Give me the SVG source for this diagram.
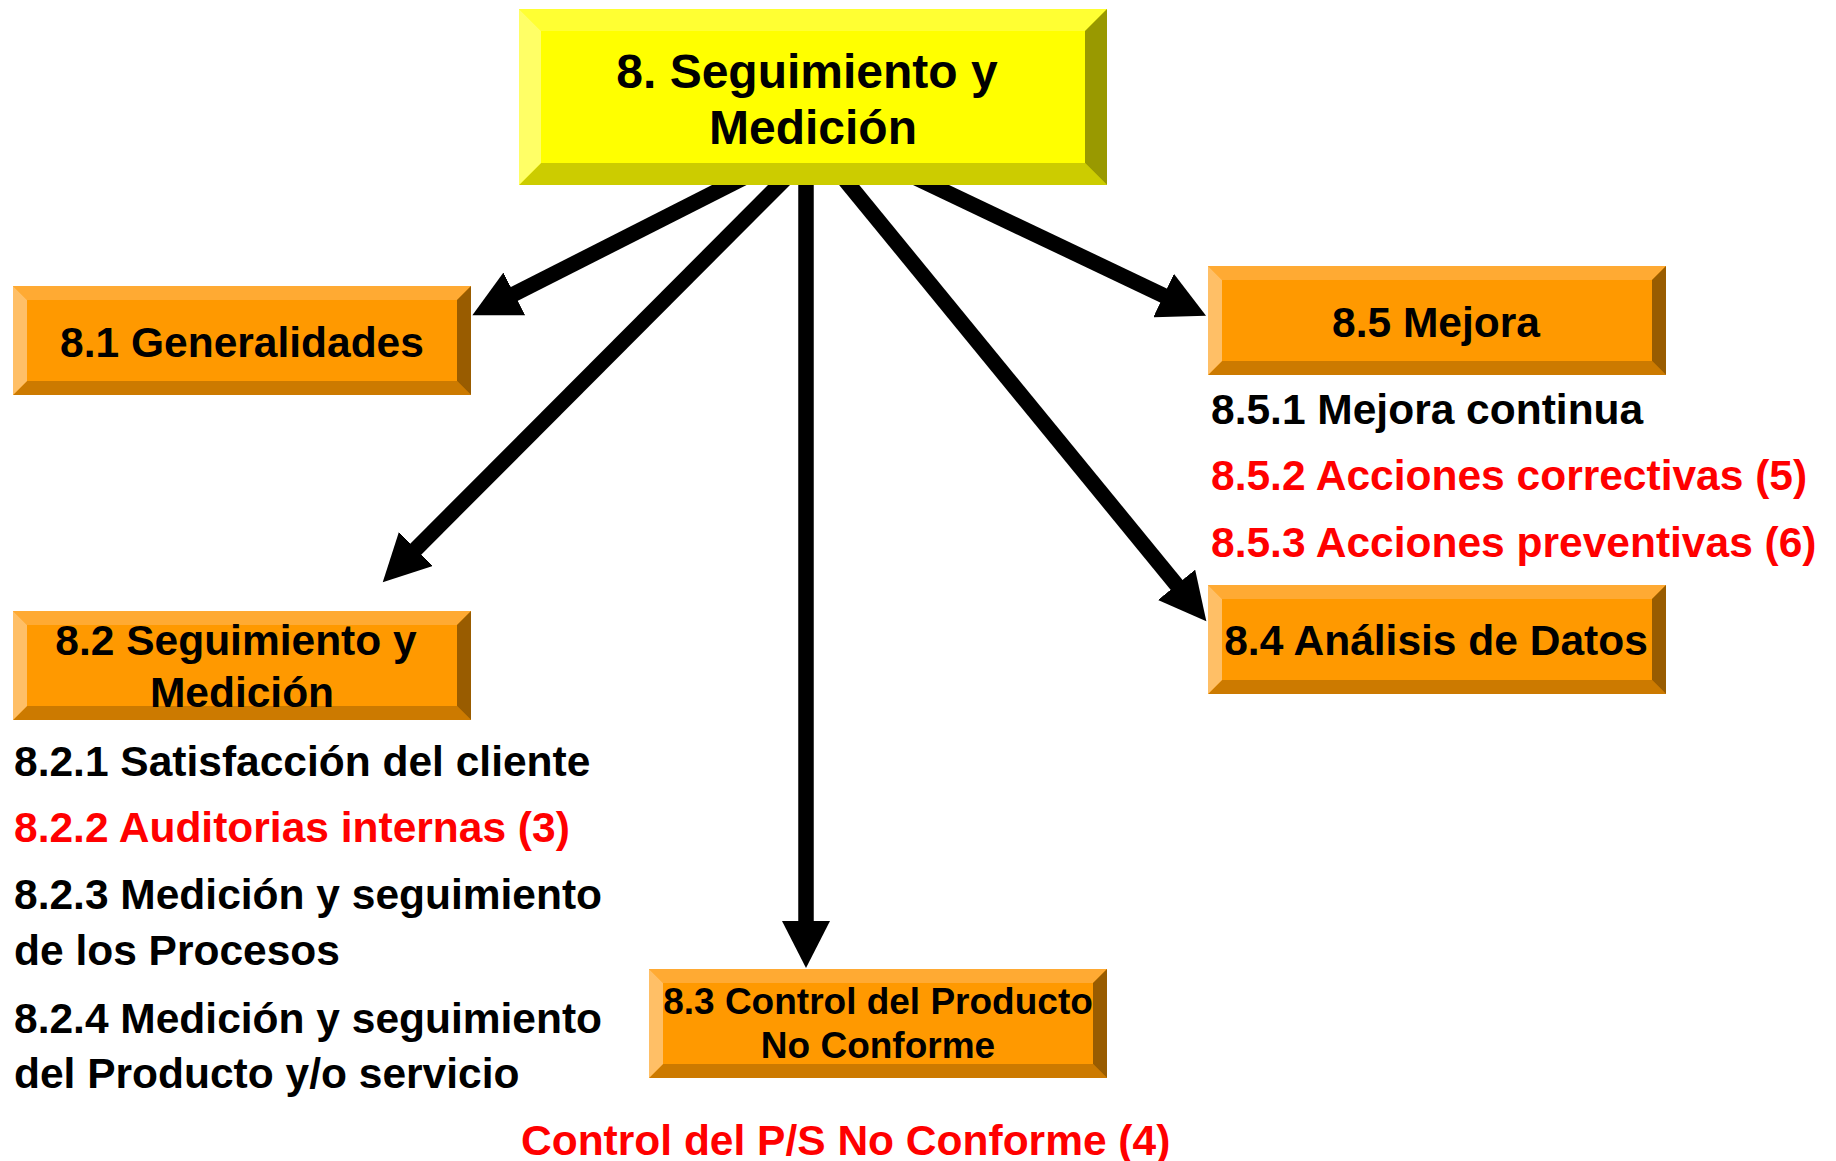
<svg xmlns="http://www.w3.org/2000/svg" xmlns:xlink="http://www.w3.org/1999/xlink" width="1836" height="1161" viewBox="0 0 1836 1161">
<style>
text{font-family:"Liberation Sans",Arial,Helvetica,sans-serif;font-weight:bold;fill:#000}
.box{font-size:42.5px;text-anchor:middle}
.top{font-size:48px;text-anchor:middle}
.small{font-size:37px;text-anchor:middle}
.item{font-size:42.5px}
.red{fill:#FF0000}
.conn{stroke:#000;stroke-width:15.5;fill:none;marker-end:url(#ah)}
</style>
<defs>
<marker id="ah" markerUnits="userSpaceOnUse" markerWidth="48" markerHeight="48" viewBox="0 0 48 48" refX="1" refY="24" orient="auto">
<path d="M0,0 L47,24 L0,48 z" fill="#000"/>
</marker>
<g id="orangeBox">
<rect x="0" y="0" width="458" height="109" fill="#FF9900"/>
<polygon points="0,0 458,0 444,14 14,14" fill="#FFAA33"/>
<polygon points="0,109 458,109 444,95 14,95" fill="#CC7A00"/>
<polygon points="0,0 14,14 14,95 0,109" fill="#FFBF66"/>
<polygon points="458,0 444,14 444,95 458,109" fill="#995C00"/>
</g>
</defs>
<rect width="1836" height="1161" fill="#FFFFFF"/>
<g id="connectors">
<line class="conn" x1="749" y1="175" x2="513.4" y2="294.4"/>
<line class="conn" x1="789" y1="175" x2="415.2" y2="549.7"/>
<line class="conn" x1="806" y1="175" x2="806" y2="922"/>
<line class="conn" x1="841" y1="175" x2="1177.2" y2="585.6"/>
<line class="conn" x1="910" y1="175" x2="1164.5" y2="295.9"/>
</g>
<g id="node-8">
<rect x="519" y="9" width="588" height="176" fill="#FFFF00"/>
<polygon points="519,9 1107,9 1085,31 541,31" fill="#FFFF33"/>
<polygon points="519,185 1107,185 1085,163 541,163" fill="#CCCC00"/>
<polygon points="519,9 541,31 541,163 519,185" fill="#FFFF66"/>
<polygon points="1107,9 1085,31 1085,163 1107,185" fill="#999900"/>
<text class="top" x="807" y="88">8. Seguimiento y</text>
<text class="top" x="813" y="144">Medición</text>
</g>
<g id="node-8-1">
<use xlink:href="#orangeBox" x="13" y="286"/>
<text class="box" x="242" y="357">8.1 Generalidades</text>
</g>
<g id="node-8-2">
<use xlink:href="#orangeBox" x="13" y="611"/>
<text class="box" x="236" y="655">8.2 Seguimiento y</text>
<text class="box" x="242" y="707">Medición</text>
</g>
<g id="list-8-2">
<text class="item" x="14" y="776">8.2.1 Satisfacción del cliente</text>
<text class="item red" x="14" y="842">8.2.2 Auditorias internas (3)</text>
<text class="item" x="14" y="909">8.2.3 Medición y seguimiento</text>
<text class="item" x="14" y="965">de los Procesos</text>
<text class="item" x="14" y="1033">8.2.4 Medición y seguimiento</text>
<text class="item" x="14" y="1088">del Producto y/o servicio</text>
</g>
<g id="node-8-3">
<use xlink:href="#orangeBox" x="649" y="969"/>
<text class="small" x="878" y="1014">8.3 Control del Producto</text>
<text class="small" x="878" y="1058">No Conforme</text>
</g>
<g id="note-8-3">
<text class="item red" x="521" y="1155">Control del P/S No Conforme (4)</text>
</g>
<g id="node-8-5">
<use xlink:href="#orangeBox" x="1208" y="266"/>
<text class="box" x="1436" y="337">8.5 Mejora</text>
</g>
<g id="list-8-5">
<text class="item" x="1211" y="424">8.5.1 Mejora continua</text>
<text class="item red" x="1211" y="490">8.5.2 Acciones correctivas (5)</text>
<text class="item red" x="1211" y="557">8.5.3 Acciones preventivas (6)</text>
</g>
<g id="node-8-4">
<use xlink:href="#orangeBox" x="1208" y="585"/>
<text class="box" x="1436" y="655">8.4 Análisis de Datos</text>
</g>
</svg>
